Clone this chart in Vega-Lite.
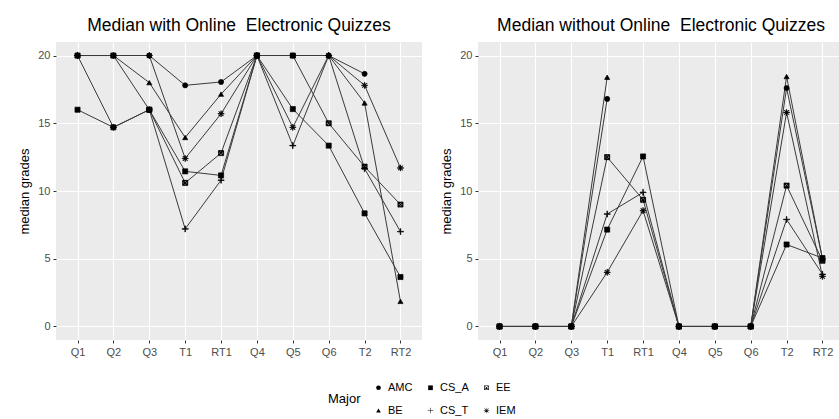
{
  "$schema": "https://vega.github.io/schema/vega-lite/v6.json",
  "background": "white",
  "padding": {"left": 18, "top": 16, "right": 0, "bottom": 0},
  "data": {"values": [
    {"panel": "with", "major": "AMC", "item": "Q1", "grade": 20},
    {"panel": "with", "major": "AMC", "item": "Q2", "grade": 20},
    {"panel": "with", "major": "AMC", "item": "Q3", "grade": 20},
    {"panel": "with", "major": "AMC", "item": "T1", "grade": 17.8},
    {"panel": "with", "major": "AMC", "item": "RT1", "grade": 18.05},
    {"panel": "with", "major": "AMC", "item": "Q4", "grade": 20},
    {"panel": "with", "major": "AMC", "item": "Q5", "grade": 20},
    {"panel": "with", "major": "AMC", "item": "Q6", "grade": 20},
    {"panel": "with", "major": "AMC", "item": "T2", "grade": 18.65},
    {"panel": "with", "major": "BE", "item": "Q1", "grade": 20},
    {"panel": "with", "major": "BE", "item": "Q2", "grade": 20},
    {"panel": "with", "major": "BE", "item": "Q3", "grade": 18},
    {"panel": "with", "major": "BE", "item": "T1", "grade": 13.95},
    {"panel": "with", "major": "BE", "item": "RT1", "grade": 17.15},
    {"panel": "with", "major": "BE", "item": "Q4", "grade": 20},
    {"panel": "with", "major": "BE", "item": "Q5", "grade": 20},
    {"panel": "with", "major": "BE", "item": "Q6", "grade": 20},
    {"panel": "with", "major": "BE", "item": "T2", "grade": 16.5},
    {"panel": "with", "major": "BE", "item": "RT2", "grade": 1.85},
    {"panel": "with", "major": "CS_A", "item": "Q1", "grade": 16},
    {"panel": "with", "major": "CS_A", "item": "Q2", "grade": 14.7},
    {"panel": "with", "major": "CS_A", "item": "Q3", "grade": 16},
    {"panel": "with", "major": "CS_A", "item": "T1", "grade": 11.45},
    {"panel": "with", "major": "CS_A", "item": "RT1", "grade": 11.15},
    {"panel": "with", "major": "CS_A", "item": "Q4", "grade": 20},
    {"panel": "with", "major": "CS_A", "item": "Q5", "grade": 16.05},
    {"panel": "with", "major": "CS_A", "item": "Q6", "grade": 13.35},
    {"panel": "with", "major": "CS_A", "item": "T2", "grade": 8.35},
    {"panel": "with", "major": "CS_A", "item": "RT2", "grade": 3.65},
    {"panel": "with", "major": "CS_T", "item": "Q1", "grade": 20},
    {"panel": "with", "major": "CS_T", "item": "Q2", "grade": 14.7},
    {"panel": "with", "major": "CS_T", "item": "Q3", "grade": 16},
    {"panel": "with", "major": "CS_T", "item": "T1", "grade": 7.2},
    {"panel": "with", "major": "CS_T", "item": "RT1", "grade": 10.8},
    {"panel": "with", "major": "CS_T", "item": "Q4", "grade": 20},
    {"panel": "with", "major": "CS_T", "item": "Q5", "grade": 13.35},
    {"panel": "with", "major": "CS_T", "item": "Q6", "grade": 20},
    {"panel": "with", "major": "CS_T", "item": "T2", "grade": 11.65},
    {"panel": "with", "major": "CS_T", "item": "RT2", "grade": 7.0},
    {"panel": "with", "major": "EE", "item": "Q1", "grade": 20},
    {"panel": "with", "major": "EE", "item": "Q2", "grade": 20},
    {"panel": "with", "major": "EE", "item": "Q3", "grade": 16},
    {"panel": "with", "major": "EE", "item": "T1", "grade": 10.6},
    {"panel": "with", "major": "EE", "item": "RT1", "grade": 12.8},
    {"panel": "with", "major": "EE", "item": "Q4", "grade": 20},
    {"panel": "with", "major": "EE", "item": "Q5", "grade": 20},
    {"panel": "with", "major": "EE", "item": "Q6", "grade": 15},
    {"panel": "with", "major": "EE", "item": "T2", "grade": 11.8},
    {"panel": "with", "major": "EE", "item": "RT2", "grade": 9.0},
    {"panel": "with", "major": "IEM", "item": "Q1", "grade": 20},
    {"panel": "with", "major": "IEM", "item": "Q2", "grade": 20},
    {"panel": "with", "major": "IEM", "item": "Q3", "grade": 20},
    {"panel": "with", "major": "IEM", "item": "T1", "grade": 12.4},
    {"panel": "with", "major": "IEM", "item": "RT1", "grade": 15.7},
    {"panel": "with", "major": "IEM", "item": "Q4", "grade": 20},
    {"panel": "with", "major": "IEM", "item": "Q5", "grade": 14.7},
    {"panel": "with", "major": "IEM", "item": "Q6", "grade": 20},
    {"panel": "with", "major": "IEM", "item": "T2", "grade": 17.8},
    {"panel": "with", "major": "IEM", "item": "RT2", "grade": 11.7},
    {"panel": "without", "major": "AMC", "item": "Q1", "grade": 0},
    {"panel": "without", "major": "AMC", "item": "Q2", "grade": 0},
    {"panel": "without", "major": "AMC", "item": "Q3", "grade": 0},
    {"panel": "without", "major": "AMC", "item": "T1", "grade": 16.8},
    {"panel": "without", "major": "AMC", "item": "RT1", "grade": null},
    {"panel": "without", "major": "AMC", "item": "Q4", "grade": 0},
    {"panel": "without", "major": "AMC", "item": "Q5", "grade": 0},
    {"panel": "without", "major": "AMC", "item": "Q6", "grade": 0},
    {"panel": "without", "major": "AMC", "item": "T2", "grade": 17.6},
    {"panel": "without", "major": "AMC", "item": "RT2", "grade": 5.0},
    {"panel": "without", "major": "BE", "item": "Q1", "grade": 0},
    {"panel": "without", "major": "BE", "item": "Q2", "grade": 0},
    {"panel": "without", "major": "BE", "item": "Q3", "grade": 0},
    {"panel": "without", "major": "BE", "item": "T1", "grade": 18.4},
    {"panel": "without", "major": "BE", "item": "RT1", "grade": null},
    {"panel": "without", "major": "BE", "item": "Q4", "grade": 0},
    {"panel": "without", "major": "BE", "item": "Q5", "grade": 0},
    {"panel": "without", "major": "BE", "item": "Q6", "grade": 0},
    {"panel": "without", "major": "BE", "item": "T2", "grade": 18.45},
    {"panel": "without", "major": "BE", "item": "RT2", "grade": 5.0},
    {"panel": "without", "major": "CS_A", "item": "Q1", "grade": 0},
    {"panel": "without", "major": "CS_A", "item": "Q2", "grade": 0},
    {"panel": "without", "major": "CS_A", "item": "Q3", "grade": 0},
    {"panel": "without", "major": "CS_A", "item": "T1", "grade": 7.15},
    {"panel": "without", "major": "CS_A", "item": "RT1", "grade": 12.55},
    {"panel": "without", "major": "CS_A", "item": "Q4", "grade": 0},
    {"panel": "without", "major": "CS_A", "item": "Q5", "grade": 0},
    {"panel": "without", "major": "CS_A", "item": "Q6", "grade": 0},
    {"panel": "without", "major": "CS_A", "item": "T2", "grade": 6.05},
    {"panel": "without", "major": "CS_A", "item": "RT2", "grade": 5.05},
    {"panel": "without", "major": "CS_T", "item": "Q1", "grade": 0},
    {"panel": "without", "major": "CS_T", "item": "Q2", "grade": 0},
    {"panel": "without", "major": "CS_T", "item": "Q3", "grade": 0},
    {"panel": "without", "major": "CS_T", "item": "T1", "grade": 8.3},
    {"panel": "without", "major": "CS_T", "item": "RT1", "grade": 9.9},
    {"panel": "without", "major": "CS_T", "item": "Q4", "grade": 0},
    {"panel": "without", "major": "CS_T", "item": "Q5", "grade": 0},
    {"panel": "without", "major": "CS_T", "item": "Q6", "grade": 0},
    {"panel": "without", "major": "CS_T", "item": "T2", "grade": 7.9},
    {"panel": "without", "major": "CS_T", "item": "RT2", "grade": 3.85},
    {"panel": "without", "major": "EE", "item": "Q1", "grade": 0},
    {"panel": "without", "major": "EE", "item": "Q2", "grade": 0},
    {"panel": "without", "major": "EE", "item": "Q3", "grade": 0},
    {"panel": "without", "major": "EE", "item": "T1", "grade": 12.5},
    {"panel": "without", "major": "EE", "item": "RT1", "grade": 9.35},
    {"panel": "without", "major": "EE", "item": "Q4", "grade": 0},
    {"panel": "without", "major": "EE", "item": "Q5", "grade": 0},
    {"panel": "without", "major": "EE", "item": "Q6", "grade": 0},
    {"panel": "without", "major": "EE", "item": "T2", "grade": 10.4},
    {"panel": "without", "major": "EE", "item": "RT2", "grade": 4.85},
    {"panel": "without", "major": "IEM", "item": "Q1", "grade": 0},
    {"panel": "without", "major": "IEM", "item": "Q2", "grade": 0},
    {"panel": "without", "major": "IEM", "item": "Q3", "grade": 0},
    {"panel": "without", "major": "IEM", "item": "T1", "grade": 4.0},
    {"panel": "without", "major": "IEM", "item": "RT1", "grade": 8.55},
    {"panel": "without", "major": "IEM", "item": "Q4", "grade": 0},
    {"panel": "without", "major": "IEM", "item": "Q5", "grade": 0},
    {"panel": "without", "major": "IEM", "item": "Q6", "grade": 0},
    {"panel": "without", "major": "IEM", "item": "T2", "grade": 15.8},
    {"panel": "without", "major": "IEM", "item": "RT2", "grade": 3.7}
  ]},
  "spacing": 18,
  "hconcat": [
    {
      "title": "Median with Online \u00a0Electronic Quizzes",
      "width": 366,
      "height": 298,
      "transform": [{"filter": "datum.panel == 'with'"}],
      "resolve": {"axis": {"y": "independent"}},
      "layer": [
        {
          "mark": {"type": "line", "color": "#3a3a3a", "strokeWidth": 1, "invalid": "break-paths-show-domains"},
          "encoding": {
            "x": {"field": "item", "type": "ordinal", "sort": ["Q1","Q2","Q3","T1","RT1","Q4","Q5","Q6","T2","RT2"], "scale": {"type": "point", "padding": 0.6}, "axis": {"title": null, "labelAngle": 0}},
            "y": {"field": "grade", "type": "quantitative", "scale": {"domain": [-1, 21], "nice": false, "zero": false}, "axis": {"values": [0,5,10,15,20], "title": "median grades"}},
            "detail": {"field": "major"}
          }
        },
        {
          "mark": {"type": "point", "filled": true, "fill": "black", "stroke": "black", "strokeWidth": 0.7, "size": 26, "opacity": 1},
          "encoding": {
            "x": {"field": "item", "type": "ordinal", "sort": ["Q1","Q2","Q3","T1","RT1","Q4","Q5","Q6","T2","RT2"]},
            "y": {"field": "grade", "type": "quantitative", "axis": {"orient": "right", "values": [2.5,7.5,12.5,17.5], "labels": false, "ticks": false, "domain": false, "title": null, "gridWidth": 0.5}},
            "shape": {"field": "major", "type": "nominal", "title": "Major",
              "legend": {"encode": {"symbols": {"update": {"stroke": {"value": "black"}, "fill": {"value": "black"}, "strokeWidth": {"value": 0.7}, "opacity": {"value": 1}}}}},
              "scale": {"domain": ["AMC","CS_A","EE","BE","CS_T","IEM"],
                "range": [
                  "circle",
                  "square",
                  "M-1,-1L1,-1L1,1L-1,1Z M-0.72,-0.72L-0.72,0.72L0.72,0.72L0.72,-0.72Z M-0.649,-0.791L0.791,0.649L0.649,0.791L-0.791,-0.649Z M-0.791,0.649L0.649,-0.791L0.791,-0.649L-0.649,0.791Z",
                  "triangle-up",
                  "M-1.2,-0.1L-0.1,-0.1L-0.1,-1.2L0.1,-1.2L0.1,-0.1L1.2,-0.1L1.2,0.1L0.1,0.1L0.1,1.2L-0.1,1.2L-0.1,0.1L-1.2,0.1Z",
                  "M-1.2,-0.08L-0.08,-0.08L-0.08,-1.2L0.08,-1.2L0.08,-0.08L1.2,-0.08L1.2,0.08L0.08,0.08L0.08,1.2L-0.08,1.2L-0.08,0.08L-1.2,0.08Z M-0.793,-0.907L0.907,0.793L0.793,0.907L-0.907,-0.793Z M-0.907,0.793L0.793,-0.907L0.907,-0.793L-0.793,0.907Z"
                ]}}
          }
        }
      ]
    },
    {
      "title": "Median without Online \u00a0Electronic Quizzes",
      "width": 366,
      "height": 298,
      "transform": [{"filter": "datum.panel == 'without'"}],
      "resolve": {"axis": {"y": "independent"}},
      "layer": [
        {
          "mark": {"type": "line", "color": "#3a3a3a", "strokeWidth": 1, "invalid": "break-paths-show-domains"},
          "encoding": {
            "x": {"field": "item", "type": "ordinal", "sort": ["Q1","Q2","Q3","T1","RT1","Q4","Q5","Q6","T2","RT2"], "scale": {"type": "point", "padding": 0.6}, "axis": {"title": null, "labelAngle": 0}},
            "y": {"field": "grade", "type": "quantitative", "scale": {"domain": [-1, 21], "nice": false, "zero": false}, "axis": {"values": [0,5,10,15,20], "title": "median grades"}},
            "detail": {"field": "major"}
          }
        },
        {
          "mark": {"type": "point", "filled": true, "fill": "black", "stroke": "black", "strokeWidth": 0.7, "size": 26, "opacity": 1},
          "encoding": {
            "x": {"field": "item", "type": "ordinal", "sort": ["Q1","Q2","Q3","T1","RT1","Q4","Q5","Q6","T2","RT2"]},
            "y": {"field": "grade", "type": "quantitative", "axis": {"orient": "right", "values": [2.5,7.5,12.5,17.5], "labels": false, "ticks": false, "domain": false, "title": null, "gridWidth": 0.5}},
            "shape": {"field": "major", "type": "nominal", "title": "Major",
              "legend": {"encode": {"symbols": {"update": {"stroke": {"value": "black"}, "fill": {"value": "black"}, "strokeWidth": {"value": 0.7}, "opacity": {"value": 1}}}}},
              "scale": {"domain": ["AMC","CS_A","EE","BE","CS_T","IEM"],
                "range": [
                  "circle",
                  "square",
                  "M-1,-1L1,-1L1,1L-1,1Z M-0.72,-0.72L-0.72,0.72L0.72,0.72L0.72,-0.72Z M-0.649,-0.791L0.791,0.649L0.649,0.791L-0.791,-0.649Z M-0.791,0.649L0.649,-0.791L0.791,-0.649L-0.649,0.791Z",
                  "triangle-up",
                  "M-1.2,-0.1L-0.1,-0.1L-0.1,-1.2L0.1,-1.2L0.1,-0.1L1.2,-0.1L1.2,0.1L0.1,0.1L0.1,1.2L-0.1,1.2L-0.1,0.1L-1.2,0.1Z",
                  "M-1.2,-0.08L-0.08,-0.08L-0.08,-1.2L0.08,-1.2L0.08,-0.08L1.2,-0.08L1.2,0.08L0.08,0.08L0.08,1.2L-0.08,1.2L-0.08,0.08L-1.2,0.08Z M-0.793,-0.907L0.907,0.793L0.793,0.907L-0.907,-0.793Z M-0.907,0.793L0.793,-0.907L0.907,-0.793L-0.793,0.907Z"
                ]}}
          }
        }
      ]
    }
  ],
  "config": {
    "font": "Liberation Sans",
    "view": {"fill": "#EBEBEB", "stroke": null},
    "title": {"fontSize": 17.5, "fontWeight": "normal", "color": "black", "offset": 8, "anchor": "middle"},
    "axis": {
      "grid": true, "gridColor": "white", "gridWidth": 1.1,
      "domain": false, "tickColor": "#333333", "tickSize": 3,
      "labelColor": "#4D4D4D", "labelFontSize": 11, "labelPadding": 3,
      "titleFontSize": 13, "titleFontWeight": "normal", "titleColor": "black", "titlePadding": 6
    },
    "legend": {
      "orient": "none", "legendX": 272, "legendY": 340,
      "direction": "horizontal", "columns": 3, "titleOrient": "left", "titleAnchor": "middle",
      "titleFontSize": 13, "titleFontWeight": "normal", "titleColor": "black", "titleBaseline": "middle",
      "labelFontSize": 11, "labelColor": "black",
      "symbolFillColor": "black", "symbolStrokeColor": "black", "symbolStrokeWidth": 0.7, "symbolSize": 22,
      "columnPadding": 12, "rowPadding": 11, "titlePadding": 12
    }
  }
}
